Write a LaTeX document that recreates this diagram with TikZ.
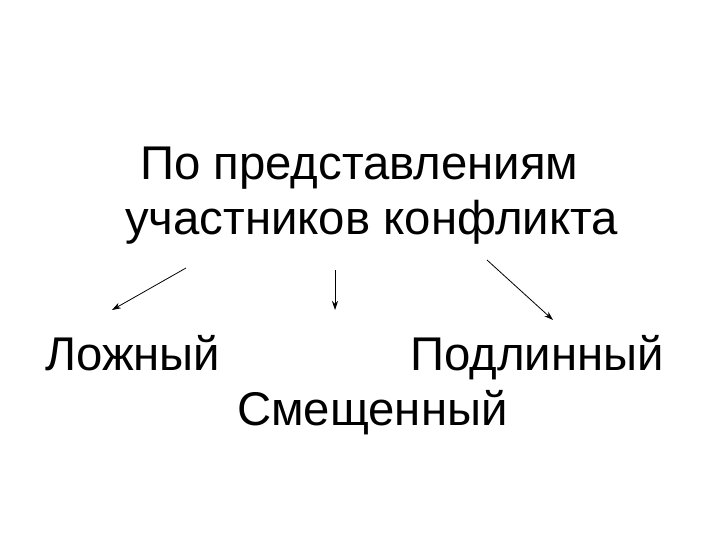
\documentclass[tikz,border=0pt]{standalone}
\usepackage{fontspec}
\setmainfont{Liberation Sans}
\usetikzlibrary{arrows.meta}
\begin{document}
\begin{tikzpicture}[x=1bp,y=-1bp,
  lbl/.style={anchor=base west,inner sep=0pt,font=\fontsize{47.5}{56}\selectfont},
  arr/.style={-{Stealth[length=9bp,width=6bp]},line width=0.8bp}]
\useasboundingbox (0,0) rectangle (720,540);
\node[lbl] (t1) at (140,180) {По представлениям};
\node[lbl] (t2) at (125,235) {участников конфликта};
\node[lbl] (a) at (45,370) {Ложный};
\node[lbl] (b) at (410,370) {Подлинный};
\node[lbl] (c) at (237,425) {Смещенный};
\coordinate (s1) at (186,268); \coordinate (e1) at (112,310);
\coordinate (s2) at (335,270); \coordinate (e2) at (335,310);
\coordinate (s3) at (487,260); \coordinate (e3) at (553,320);
\draw[arr] (s1) -- (e1);
\draw[arr] (s2) -- (e2);
\draw[arr] (s3) -- (e3);
\end{tikzpicture}
\end{document}
